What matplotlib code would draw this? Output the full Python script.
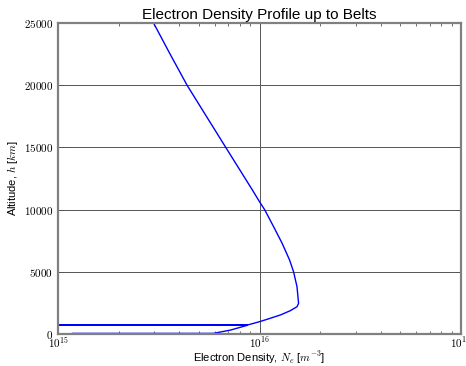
import numpy as np
import matplotlib
matplotlib.use('Agg')
import matplotlib.pyplot as plt
from matplotlib.ticker import FuncFormatter, LogLocator

plt.rcParams['font.family'] = 'Liberation Sans'
plt.rcParams['mathtext.fontset'] = 'cm'

# Electron density profile, path in drawing order
density = [1.18e15, 5.9e15, 7.2e15, 8.7e15, 5e14, 5e14, 8.8e15,
           1.0e16, 1.09e16, 1.27e16, 1.42e16, 1.535e16, 1.563e16, 1.535e16,
           1.476e16, 1.41e16, 1.295e16, 1.175e16, 1.06e16, 1.0e16, 9.22e15,
           6.8e15, 5.45e15, 4.37e15, 3.6e15, 2.98e15]
altitude = [50, 50, 320, 700, 700, 740, 740,
            990, 1180, 1530, 1870, 2190, 2470, 3800,
            5000, 5950, 7290, 8625, 10000, 10635, 11576,
            15000, 17500, 20000, 22500, 25000]

fig = plt.figure(figsize=(4.66, 3.66), dpi=100)
ax = fig.add_axes([58/466, 32/366, 403/466, 311/366])

ax.plot(density, altitude, '-', color='#0000ff', lw=1.0)
ax.set_xscale('log')
ax.set_xlim(1e15, 1e17)
ax.set_ylim(0, 25000)

ax.grid(True, which='major', color='#555555', lw=0.7, ls='-')
for s in ax.spines.values():
    s.set_color('#808080')
    s.set_linewidth(1.6)

ax.xaxis.set_minor_locator(LogLocator(base=10, subs=np.arange(2, 10)))
ax.xaxis.set_major_formatter(FuncFormatter(lambda v, p: r'$10^{%d}$' % round(np.log10(v))))
ax.yaxis.set_major_formatter(FuncFormatter(lambda v, p: r'$%d$' % v))
ax.tick_params(which='both', direction='in', top=True, right=True, color='#555555',
               labelsize=8)
ax.tick_params(which='major', length=4, width=0.6)
ax.tick_params(which='minor', length=2, width=0.6)
ax.tick_params(axis='x', pad=1)

ax.set_title('Electron Density Profile up to Belts', fontsize=11, pad=3)
ax.set_xlabel(r'Electron Density, $N_e$ [$m^{-3}$]', fontsize=8, labelpad=-1)
ax.set_ylabel(r'Altitude, $h$ [$km$]', fontsize=8, labelpad=3)

fig.savefig('out.png', dpi=100)
